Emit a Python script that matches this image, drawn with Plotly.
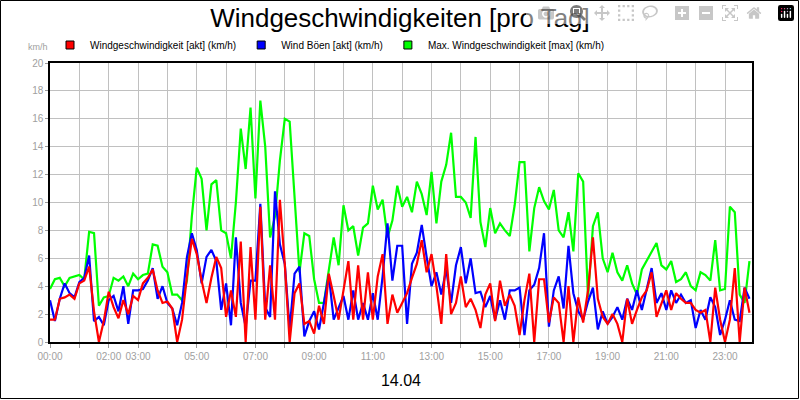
import plotly.graph_objects as go

# 10-minute readings (km/h), one row per hour 00..23
akt = [
    1.6, 1.6, 3.1, 3.2, 3.4, 3.1,  4.2, 4.4, 5.4, 2.2, 0.0, 1.5,
    3.6, 2.5, 1.7, 3.0, 2.0, 3.3,  3.0, 4.2, 4.6, 5.2, 3.7, 2.8,
    2.9, 2.4, 0.0, 1.6, 4.7, 7.4,  6.3, 4.4, 2.8, 4.6, 6.1, 5.3,
    1.8, 3.7, 1.8, 7.2, 0.0, 6.8,  1.6, 9.7, 1.6, 5.5, 1.6, 10.2,
    5.6, 0.0, 3.5, 4.2, 1.3, 1.5,  0.6, 2.6, 1.3, 4.9, 3.3, 1.6,
    3.7, 5.8, 1.6, 5.5, 1.6, 5.0,  1.6, 4.7, 6.3, 1.3, 3.4, 2.1,
    2.8, 3.5, 4.6, 5.6, 7.3, 5.0,  6.3, 4.0, 1.3, 6.3, 2.0, 2.8,
    4.7, 2.5, 3.1, 2.3, 1.0, 3.4,  4.2, 1.5, 4.4, 2.6, 3.4, 2.6,
    0.5, 3.0, 4.9, 0.0, 4.5, 4.5,  1.4, 3.2, 2.8, 0.0, 4.0, 0.0,
    3.2, 1.4, 3.7, 7.5, 3.1, 1.8,  1.3, 2.0, 1.3, 0.0, 3.1, 1.3,
    2.3, 3.2, 3.7, 5.0, 1.8, 2.8,  3.7, 2.3, 3.5, 3.1, 2.8, 2.8,
    2.3, 2.1, 2.3, 0.0, 3.9, 1.6,  0.0, 1.6, 5.3, 0.0, 3.9, 2.1,
]
boeen = [
    3.0, 1.5, 3.1, 4.2, 3.5, 3.2,  4.3, 4.6, 6.2, 1.5, 1.8, 1.2,
    3.0, 3.3, 2.2, 4.0, 1.3, 3.7,  3.7, 3.8, 4.4, 5.3, 3.1, 4.0,
    2.8, 2.4, 1.2, 2.8, 6.1, 7.8,  6.6, 4.2, 6.1, 6.6, 5.8, 2.3,
    4.2, 1.2, 7.5, 2.8, 1.1, 4.4,  4.4, 9.9, 2.5, 1.8, 10.8, 7.0,
    5.6, 0.9, 4.9, 5.4, 0.4, 1.5,  2.2, 0.9, 2.8, 4.8, 1.6, 2.5,
    3.3, 1.6, 3.7, 1.6, 2.8, 1.6,  3.5, 1.6, 4.7, 8.5, 4.4, 6.9,
    6.9, 1.3, 5.6, 6.4, 8.4, 6.1,  4.0, 5.0, 3.4, 5.2, 2.8, 5.5,
    6.8, 4.2, 6.0, 3.5, 3.6, 2.5,  3.3, 1.6, 3.0, 1.6, 3.7, 3.7,
    3.9, 0.5, 3.7, 4.1, 5.3, 7.8,  1.1, 3.7, 4.7, 2.4, 6.9, 3.5,
    2.2, 1.6, 2.9, 3.9, 0.9, 2.2,  1.3, 1.8, 2.5, 1.6, 3.1, 2.3,
    3.7, 2.3, 3.8, 5.3, 2.8, 3.5,  2.3, 3.7, 2.8, 3.4, 2.8, 3.0,
    1.0, 2.3, 1.6, 3.2, 2.5, 0.5,  1.6, 3.0, 1.6, 1.5, 3.9, 3.1,
]
maxw = [
    3.8, 4.5, 4.6, 4.0, 4.6, 4.7,  4.8, 4.5, 7.9, 7.8, 2.6, 3.2,
    3.3, 4.6, 4.4, 4.7, 4.0, 4.9,  4.5, 4.8, 4.9, 7.0, 6.9, 5.4,
    5.0, 3.4, 3.4, 3.0, 4.4, 9.0,  12.5, 11.7, 8.0, 11.3, 11.6, 8.0,
    7.8, 6.0, 10.0, 15.3, 12.4, 16.8,  10.3, 17.3, 14.0, 7.5, 9.0, 13.0,
    16.0, 15.8, 10.0, 5.0, 7.8, 7.6,  4.5, 2.8, 2.8, 5.0, 7.5, 5.5,
    9.8, 8.0, 8.3, 6.2, 8.2, 8.5,  11.2, 9.5, 10.2, 7.5, 8.7, 11.2,
    9.7, 10.4, 9.3, 11.5, 10.6, 9.1,  12.2, 8.5, 11.5, 12.7, 15.0, 10.4,
    10.4, 10.0, 8.9, 14.7, 8.6, 6.8,  9.6, 7.8, 8.5, 8.0, 7.6, 9.8,
    12.9, 12.9, 6.5, 9.6, 11.1, 10.1,  9.5, 10.9, 8.0, 7.5, 9.3, 6.5,
    12.1, 11.5, 3.2, 8.3, 9.3, 6.0,  5.0, 6.4, 5.0, 4.4, 5.5, 4.2,
    3.4, 5.2, 5.8, 6.4, 7.1, 5.5,  5.2, 5.8, 4.3, 4.5, 5.0, 4.0,
    3.7, 5.0, 4.8, 4.4, 7.3, 3.7,  3.8, 9.7, 9.3, 3.4, 2.8, 5.8,
]
hours = [i / 6 for i in range(len(akt))]
tick_hours = list(range(24))
tick_text = ["00:00", "", "02:00", "03:00", "", "05:00", "", "07:00", "", "09:00", "", "11:00",
             "", "13:00", "", "15:00", "", "17:00", "", "19:00", "", "21:00", "", "23:00"]

series = [
    ("Windgeschwindigkeit [akt] (km/h)", akt, "#ff0000"),
    ("Wind Böen [akt] (km/h)", boeen, "#0000ff"),
    ("Max. Windgeschwindigkeit [max] (km/h)", maxw, "#00ff00"),
]

fig = go.Figure()
# draw order: green behind, then blue, red on top
for name, vals, col in [series[2], series[1], series[0]]:
    fig.add_trace(go.Scatter(x=hours, y=vals, mode="lines", line=dict(color=col, width=2.2),
                             showlegend=False, hoverinfo="skip"))
for name, vals, col in series:
    fig.add_trace(go.Scatter(x=[None], y=[None], mode="markers", name=name,
                             marker=dict(symbol="square", size=8, color=col,
                                         line=dict(color="black", width=1))))

W, H = 800, 400
L, R, T, B = 50, 48, 63, 58
pw, ph = W - L - R, H - T - B
fig.add_shape(type="rect", xref="paper", yref="paper",
              x0=-L / pw + 0.5 / pw, x1=1 + (R - 1.5) / pw,
              y0=-B / ph + 1.5 / ph, y1=1 + (T - 0.5) / ph,
              line=dict(color="black", width=1), layer="below")

fig.update_layout(
    width=W, height=H, margin=dict(l=L, r=R, t=T, b=B, autoexpand=False),
    paper_bgcolor="white", plot_bgcolor="white",
    font=dict(family="Liberation Sans, Arial", color="black"),
    title=dict(text="Windgeschwindigkeiten [pro Tag]", x=0.5, xanchor="center",
               y=1 - 18 / H, yanchor="middle", font=dict(size=26)),
    legend=dict(orientation="h", x=0.0, y=1 + 18 / ph, xanchor="left", yanchor="middle",
                font=dict(size=10), itemwidth=30, tracegroupgap=0, bgcolor="rgba(0,0,0,0)"),
    showlegend=True,
)
fig.update_xaxes(range=[0, 23.92], tickvals=tick_hours, ticktext=tick_text,
                 showgrid=True, gridcolor="#c0c0c0", gridwidth=1,
                 showline=True, linecolor="black", linewidth=1.5, mirror=True,
                 ticks="outside", ticklen=4, tickcolor="#999999",
                 tickfont=dict(size=10, color="#a0a0a0"), zeroline=False,
                 title=dict(text="14.04", font=dict(size=16), standoff=14))
fig.update_yaxes(range=[0, 20], dtick=2, showgrid=True, gridcolor="#c0c0c0", gridwidth=1,
                 showline=True, linecolor="black", linewidth=1.5, mirror=True,
                 ticks="outside", ticklen=3, tickcolor="#999999",
                 tickfont=dict(size=10, color="#a0a0a0"), zeroline=False)
fig.add_annotation(text="km/h", xref="paper", yref="paper", x=-12 / pw, y=1 + 16 / ph,
                   xanchor="center", yanchor="middle",
                   showarrow=False, font=dict(size=9, color="#a0a0a0"))

fig.write_html("out.html", post_script="document.body.style.margin='0';")
